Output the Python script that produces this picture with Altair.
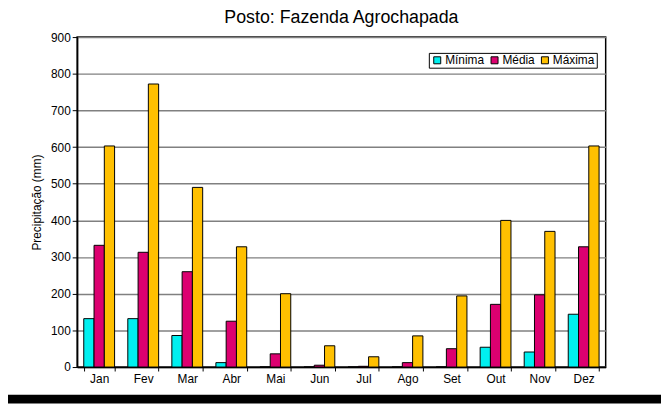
import altair as alt
import pandas as pd

months = ["Jan", "Fev", "Mar", "Abr", "Mai", "Jun", "Jul", "Ago", "Set", "Out", "Nov", "Dez"]
series = ["Mínima", "Média", "Máxima"]
minima = [132, 132, 86, 12, 0, 0, 0, 0, 0, 54, 41, 144]
media = [332, 313, 260, 125, 36, 5, 2, 12, 50, 171, 197, 328]
maxima = [603, 772, 490, 328, 200, 58, 28, 85, 194, 400, 370, 603]
colors = ["#00F0F0", "#DC0070", "#FFC000"]
y_ticks = list(range(0, 901, 100))

rows = []
for i, m in enumerate(months):
    for s, vals in zip(series, [minima, media, maxima]):
        rows.append({"Mes": m, "Serie": s, "Valor": vals[i]})
df = pd.DataFrame(rows)

W, H = 535, 334
PL, PT, PR, PB = 70, 27, 56, 37
FONT = "Liberation Sans"

bars = alt.Chart(df).mark_bar(stroke="black", strokeWidth=1).encode(
    x=alt.X("Mes:N", sort=months,
            scale=alt.Scale(paddingInner=0.3, paddingOuter=0.15),
            axis=alt.Axis(title=None, labelAngle=0, tickBand="extent", tickSize=4,
                          labelPadding=3, domainColor="black", tickColor="black",
                          domainWidth=1.5, grid=False, labelFont=FONT, labelFontSize=12,
                          labelColor="black")),
    xOffset=alt.XOffset("Serie:N", sort=series, scale=alt.Scale(paddingInner=0, paddingOuter=0)),
    y=alt.Y("Valor:Q", scale=alt.Scale(domain=[0, 900], nice=False),
            axis=alt.Axis(title="Precipitação (mm)", values=y_ticks, tickSize=5,
                          labelPadding=2, titlePadding=7, grid=True, gridColor="#808080",
                          gridWidth=1.5, domainColor="black", tickColor="black",
                          domainWidth=1.5, labelFont=FONT, labelFontSize=12,
                          labelColor="black", titleFont=FONT, titleFontSize=12,
                          titleFontWeight="normal", titleColor="black")),
    color=alt.Color("Serie:N", sort=series,
                    scale=alt.Scale(domain=series, range=colors),
                    legend=alt.Legend(title=None, orient="none", legendX=356, legendY=16,
                                      direction="horizontal", symbolType="square",
                                      symbolSize=50, symbolStrokeColor="black",
                                      symbolStrokeWidth=1, labelFontSize=12,
                                      labelFont=FONT, labelColor="black",
                                      padding=1.5, strokeColor="black", fillColor="white",
                                      columnPadding=3, labelOffset=2, symbolOffset=1)),
)

frame = alt.Chart(pd.DataFrame({"a": [0]})).mark_rect(color="black").encode(
    x=alt.value(-PL), x2=alt.value(W + PR), y=alt.value(H + PB - 9), y2=alt.value(H + PB)
)

chart = alt.layer(bars, frame).properties(
    width=W, height=H,
    background="white",
    title=alt.Title("Posto: Fazenda Agrochapada", fontSize=18, fontWeight="normal",
                    font=FONT, color="black", offset=4, anchor="middle"),
    autosize=alt.AutoSizeParams(type="none"),
    padding={"left": PL, "top": PT, "right": PR, "bottom": PB},
).configure_view(stroke="black", strokeWidth=1.5)

chart.save("out.html", embed_options={"renderer": "svg", "actions": False})
